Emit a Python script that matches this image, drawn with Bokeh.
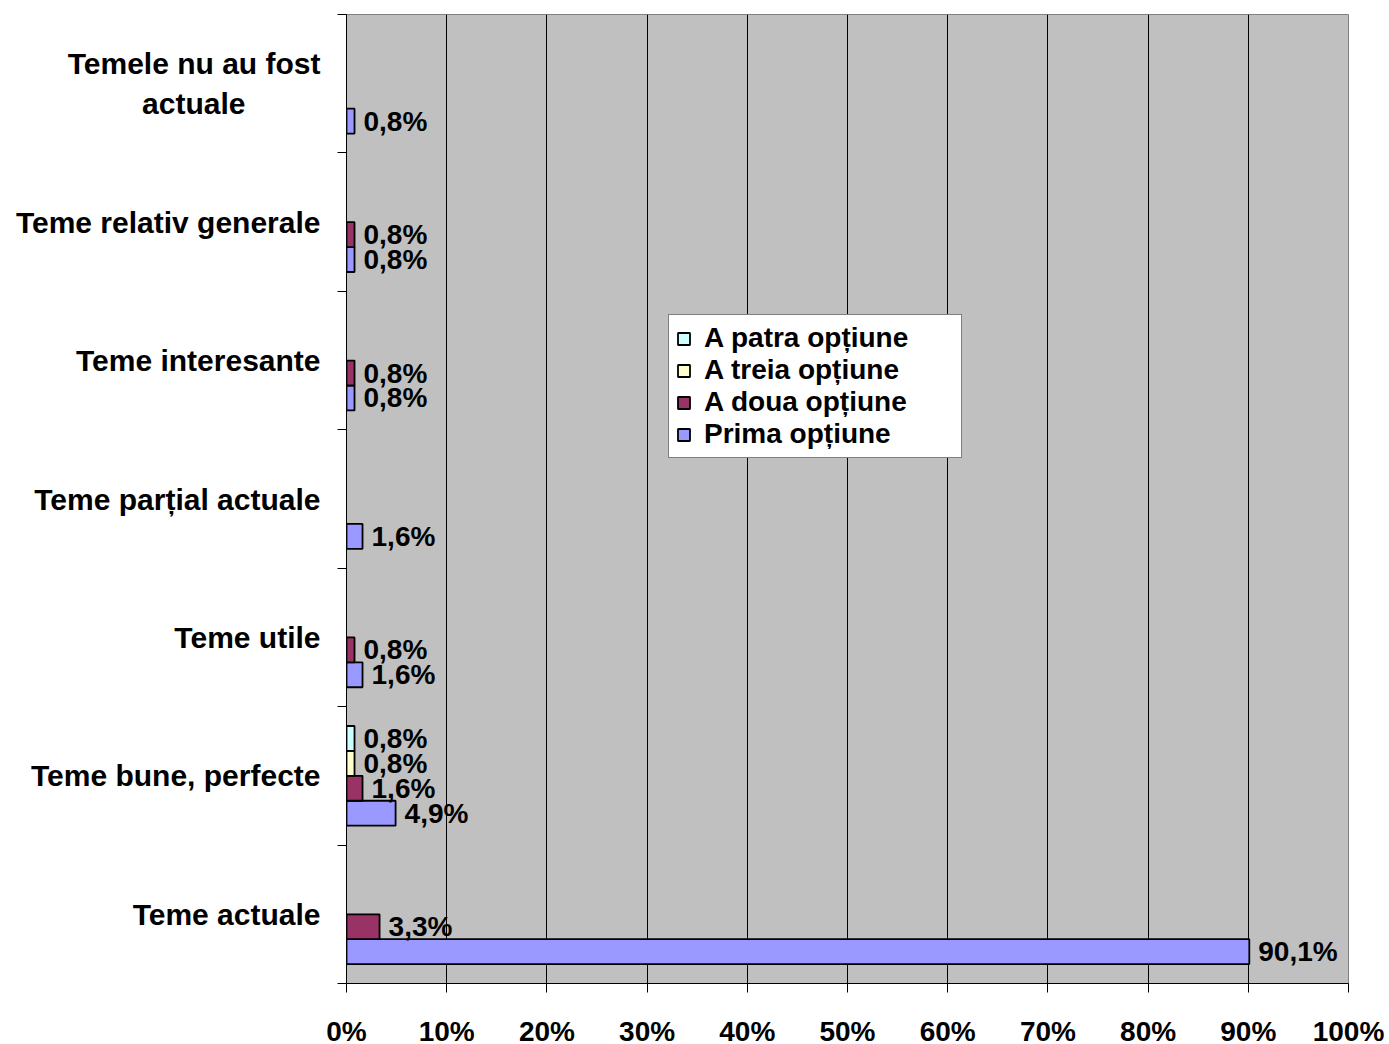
from bokeh.plotting import figure
from bokeh.models import (Range1d, FixedTicker, Legend, LegendItem, ColumnDataSource,
                          LinearAxis, Grid)
from bokeh.embed import file_html
from bokeh.resources import INLINE

# ---- data (bottom to top) ----
NB = "\u00a0"
categories = ["Teme actuale", "Teme bune, perfecte", "Teme utile", "Teme parțial actuale",
              "Teme interesante", "Teme relativ generale",
              "Temele nu au fost\nactuale" + NB * 9]
series_names = ["Prima opțiune", "A doua opțiune", "A treia opțiune", "A patra opțiune"]
prima = [90.1, 4.9, 1.6, 1.6, 0.8, 0.8, 0.8]
a_doua = [3.3, 1.6, 0.8, 0.0, 0.8, 0.8, 0.0]
a_treia = [0.0, 0.8, 0.0, 0.0, 0.0, 0.0, 0.0]
a_patra = [0.0, 0.8, 0.0, 0.0, 0.0, 0.0, 0.0]
x_ticks = [0, 10, 20, 30, 40, 50, 60, 70, 80, 90, 100]

colors = ["#9999FF", "#993366", "#FFFFCC", "#CCFFFF"]
offsets = [-0.27, -0.09, 0.09, 0.27]
bar_h = 0.18
FONT = "Liberation Sans"

p = figure(width=1388, height=1044, output_backend="svg", toolbar_location=None,
           x_range=Range1d(0, 100), y_range=Range1d(0, len(categories)),
           min_border_left=346, min_border_top=14, min_border_right=40, min_border_bottom=61,
           x_axis_type=None, y_axis_type=None)
p.frame_width = 1002
p.frame_height = 969
p.background_fill_color = "#C0C0C0"
p.border_fill_color = "white"
p.outline_line_color = "#808080"
p.outline_line_width = 1

# x axis
xa = LinearAxis(ticker=FixedTicker(ticks=x_ticks))
xa.major_label_overrides = {t: f"{t}%" for t in x_ticks}
xa.major_tick_out = 9
xa.major_tick_in = 0
xa.minor_tick_out = 0
xa.minor_tick_in = 0
xa.axis_line_color = "black"
xa.major_tick_line_color = "black"
xa.major_label_text_font = FONT
xa.major_label_text_font_style = "bold"
xa.major_label_text_font_size = "28px"
xa.major_label_text_color = "black"
xa.major_label_standoff = 23
p.add_layout(xa, "below")

# y axis: labels at category centres, tick marks at boundaries
centers = [i + 0.5 for i in range(len(categories))]
bounds = [i for i in range(len(categories) + 1)]
ya = LinearAxis(ticker=FixedTicker(ticks=centers, minor_ticks=bounds))
ya.major_label_overrides = {c: lab for c, lab in zip(centers, categories)}
ya.major_tick_out = 0
ya.major_tick_in = 0
ya.minor_tick_out = 9
ya.minor_tick_in = 0
ya.minor_tick_line_color = "black"
ya.axis_line_color = "black"
ya.major_label_text_font = FONT
ya.major_label_text_font_style = "bold"
ya.major_label_text_font_size = "30px"
ya.major_label_text_color = "black"
ya.major_label_standoff = 17
p.add_layout(ya, "left")

# vertical grid lines
g = Grid(dimension=0, ticker=FixedTicker(ticks=x_ticks), grid_line_color="black",
         grid_line_width=1)
p.add_layout(g)

all_series = [prima, a_doua, a_treia, a_patra]
items = []
for name, vals, col, off in zip(series_names, all_series, colors, offsets):
    ys = [i + 0.5 + off for i, v in enumerate(vals) if v > 0]
    xs = [v for v in vals if v > 0]
    labs = [f"{v:.1f}".replace(".", ",") + "%" for v in xs]
    src = ColumnDataSource(dict(y=ys, x=xs, lab=labs))
    r = p.hbar(y="y", right="x", left=0, height=bar_h, source=src, fill_color=col,
               line_color="black", line_width=1.8)
    p.text(x="x", y="y", text="lab", source=src, x_offset=9, text_baseline="middle",
           text_align="left", text_font_size="28px", text_font_style="bold",
           text_color="black", text_font={"value": FONT})
    items.append(LegendItem(label=name, renderers=[r]))

legend = Legend(items=list(reversed(items)), location=(322, 525))
legend.label_text_font = FONT
legend.label_text_font_style = "bold"
legend.label_text_font_size = "28px"
legend.label_text_color = "black"
legend.label_height = 28
legend.label_width = 250
legend.glyph_width = 15
legend.glyph_height = 15
legend.spacing = 0
legend.padding = 7
legend.margin = 0
legend.label_standoff = 13
legend.border_line_color = "black"
legend.border_line_width = 1
legend.background_fill_color = "white"
legend.background_fill_alpha = 1
p.add_layout(legend, "center")

open("out.html", "w").write(file_html(p, INLINE))
